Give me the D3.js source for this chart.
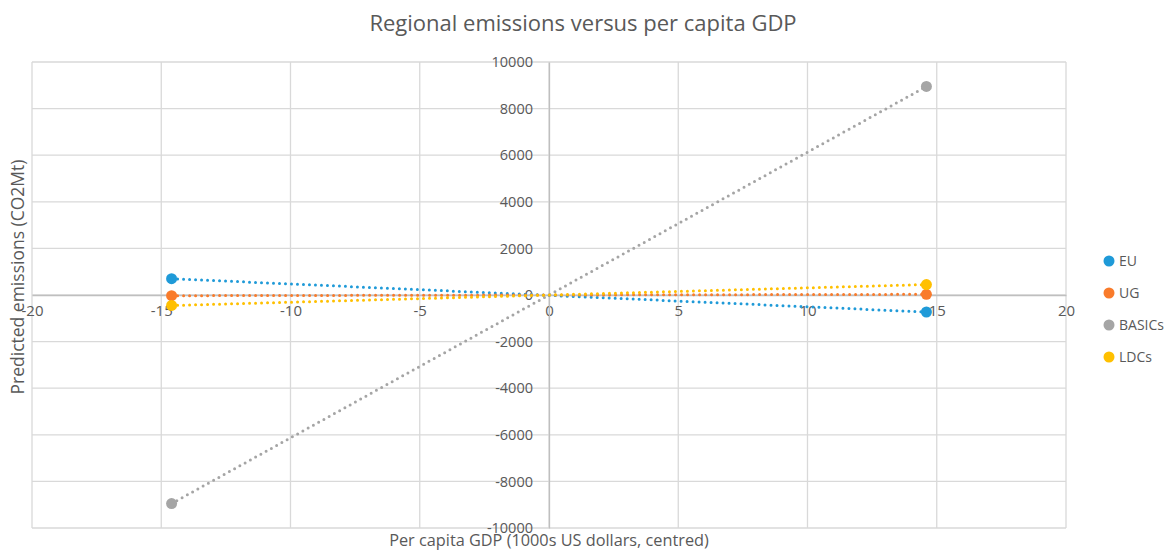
<!DOCTYPE html>
<html>
<head>
<meta charset="utf-8">
<script src="https://cdn.jsdelivr.net/npm/d3@7"></script>
<style>
  body { margin: 0; background: #fff; }
  svg text { font-family: "Open Sans", "Liberation Sans", sans-serif; fill: #595959; }
</style>
</head>
<body>
<svg id="chart" width="1166" height="552"></svg>
<script>
// Regional regression lines: predicted emissions at the ends of the centred GDP range
const seriesNames = ["EU", "UG", "BASICs", "LDCs"];
const seriesColors = ["#1f9ad8", "#f97b2b", "#a5a5a5", "#ffc000"];
const gdpPoints = [-14.6, 14.6];
const euValues = [700, -730];
const ugValues = [-30, 30];
const basicsValues = [-8950, 8950];
const ldcValues = [-450, 450];
const xTicks = [-20, -15, -10, -5, 0, 5, 10, 15, 20];
const yTicks = [-10000, -8000, -6000, -4000, -2000, 0, 2000, 4000, 6000, 8000, 10000];

const seriesValues = [euValues, ugValues, basicsValues, ldcValues];
const series = seriesNames.map((name, i) => ({
  name, color: seriesColors[i],
  points: gdpPoints.map((g, j) => ({ x: g, y: seriesValues[i][j] }))
}));

const svg = d3.select("#chart");
const plot = { left: 32, right: 1066, top: 62, bottom: 528 };

const x = d3.scaleLinear().domain([-20, 20]).range([plot.left, plot.right]);
const y = d3.scaleLinear().domain([-10000, 10000]).range([plot.bottom, plot.top]);
const plain = d => String(d);

// Gridlines
const grid = svg.append("g");
grid.selectAll("line.v").data(xTicks).join("line")
  .attr("x1", d => x(d)).attr("x2", d => x(d))
  .attr("y1", plot.top).attr("y2", plot.bottom)
  .attr("stroke", "#d9d9d9").attr("stroke-width", 1.3);
grid.selectAll("line.h").data(yTicks).join("line")
  .attr("x1", plot.left).attr("x2", plot.right)
  .attr("y1", d => y(d)).attr("y2", d => y(d))
  .attr("stroke", "#d9d9d9").attr("stroke-width", 1.3);

// Axes crossing at the origin
const xAxis = d3.axisBottom(x).tickValues(xTicks).tickFormat(plain).tickSize(0).tickPadding(10);
const gx = svg.append("g").attr("transform", `translate(0,${y(0)})`).call(xAxis);
gx.select(".domain").attr("stroke", "#bfbfbf").attr("stroke-width", 1.3);
gx.selectAll("text").style("font-size", "15px").attr("fill", "#595959");

const yAxis = d3.axisLeft(y).tickValues(yTicks).tickFormat(plain).tickSize(0).tickPadding(16);
const gy = svg.append("g").attr("transform", `translate(${x(0)},0)`).call(yAxis);
gy.select(".domain").attr("stroke", "#bfbfbf").attr("stroke-width", 1.3);
gy.selectAll("text").style("font-size", "14.5px").attr("fill", "#595959");

// Dotted lines and markers
const line = d3.line().x(d => x(d.x)).y(d => y(d.y));
const sg = svg.append("g");
series.forEach(s => {
  sg.append("path").datum(s.points)
    .attr("d", line).attr("fill", "none")
    .attr("stroke", s.color).attr("stroke-width", 3)
    .attr("stroke-linecap", "round").attr("stroke-dasharray", "0,6");
});
series.forEach(s => {
  sg.selectAll(null).data(s.points).join("circle")
    .attr("cx", d => x(d.x)).attr("cy", d => y(d.y)).attr("r", 5.5)
    .attr("fill", s.color);
});

// Title
svg.append("text").attr("x", 583).attr("y", 31).attr("text-anchor", "middle")
  .style("font-size", "22px").text("Regional emissions versus per capita GDP");

// Axis titles
svg.append("text").attr("x", x(0)).attr("y", 546).attr("text-anchor", "middle")
  .style("font-size", "16.3px").text("Per capita GDP (1000s US dollars, centred)");
svg.append("text").attr("transform", "translate(24,277) rotate(-90)")
  .attr("text-anchor", "middle").style("font-size", "17.5px")
  .text("Predicted emissions (CO2Mt)");

// Legend
const legend = svg.append("g");
series.forEach((s, i) => {
  const ly = 261 + i * 32;
  legend.append("circle").attr("cx", 1109).attr("cy", ly).attr("r", 5.5).attr("fill", s.color);
  legend.append("text").attr("x", 1119).attr("y", ly).attr("dy", "0.35em")
    .style("font-size", "14px").text(s.name);
});
</script>
</body>
</html>
